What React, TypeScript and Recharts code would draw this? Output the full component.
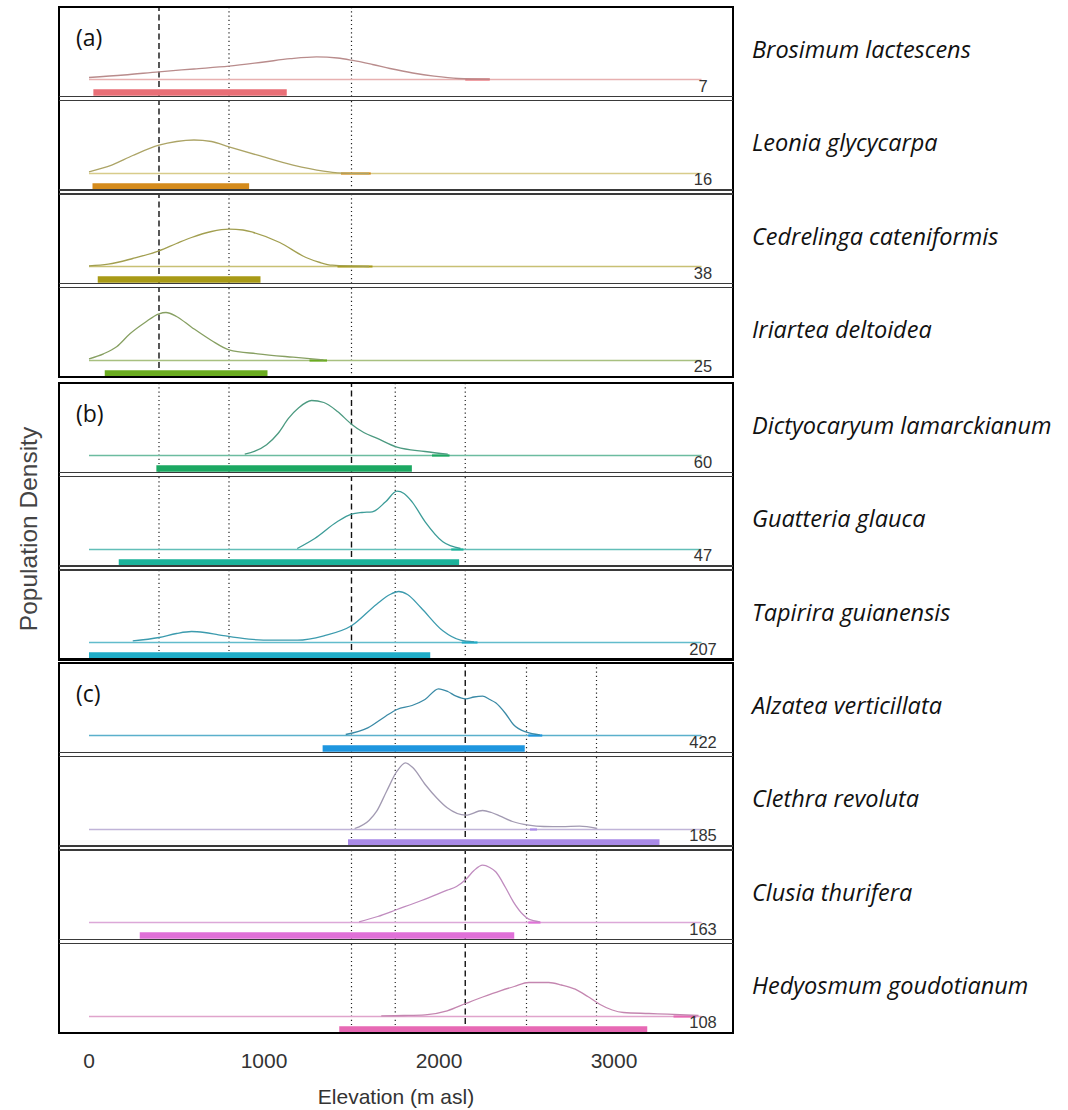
import React from 'react';
import { ComposedChart, Line, XAxis, YAxis, ReferenceLine } from 'recharts';

// ---------- data ----------
const species = [
  'Brosimum lactescens', 'Leonia glycycarpa', 'Cedrelinga cateniformis', 'Iriartea deltoidea',
  'Dictyocaryum lamarckianum', 'Guatteria glauca', 'Tapirira guianensis',
  'Alzatea verticillata', 'Clethra revoluta', 'Clusia thurifera', 'Hedyosmum goudotianum',
];
const counts = [7, 16, 38, 25, 60, 47, 207, 422, 185, 163, 108];
const groupOf = [0, 0, 0, 0, 1, 1, 1, 2, 2, 2, 2];
const groupLabels = ['(a)', '(b)', '(c)'];
const rangeLow = [25, 20, 50, 90, 385, 170, 0, 1335, 1480, 290, 1430];
const rangeHigh = [1130, 915, 980, 1020, 1845, 2115, 1950, 2490, 3260, 2430, 3190];
const tailLow = [2150, 1440, 1420, 1260, 1960, 2070, 2130, 2510, 2520, 2510, 3340];
const tailHigh = [2290, 1610, 1620, 1360, 2060, 2140, 2220, 2590, 2560, 2580, 3470];
const dashedLines = [[400], [1500], [2150]];
const dottedLines = [[800, 1500], [400, 800, 1750, 2150], [1500, 1750, 2500, 2900]];
const baselineFrom = 0;
const baselineTo = 3500;
const xTicks = [0, 1000, 2000, 3000];

// density curves: [elevation, relative density]
const curveBrosimum = [[0, 2], [200, 4.5], [400, 7.7], [600, 10.5], [800, 13.3], [1000, 17.5], [1150, 20.8], [1300, 22.7], [1420, 21.5], [1500, 19.3], [1620, 15], [1720, 11], [1850, 6.5], [1972, 3.3], [2110, 1], [2290, 0.3]];
const curveLeonia = [[0, 1.7], [130, 8.3], [250, 18], [400, 28.3], [500, 32], [600, 33.5], [700, 32], [800, 26.7], [964, 18.3], [1166, 8.3], [1340, 2.3], [1420, 0.7], [1600, 0]];
const curveCedrelinga = [[0, 0.7], [110, 2.3], [250, 8], [400, 15.7], [500, 23], [586, 29], [700, 35], [800, 37.3], [880, 36.5], [940, 34], [1090, 24], [1240, 9], [1320, 4], [1390, 1.3], [1600, 0]];
const curveIriartea = [[0, 1.7], [83, 6.7], [160, 14], [234, 26.7], [320, 38], [400, 46.7], [440, 48], [500, 44], [586, 33.3], [700, 20], [800, 10.7], [964, 6.7], [1166, 3.3], [1340, 0.7]];
const curveDictyocaryum = [[890, 1.3], [1015, 10.7], [1080, 22], [1141, 37.3], [1200, 48], [1272, 55], [1342, 53], [1420, 44], [1500, 31.3], [1570, 23], [1644, 17.3], [1760, 8.3], [1920, 4], [2050, 1.3]];
const curveGuatteria = [[1190, 1], [1290, 11], [1418, 27.7], [1500, 35.3], [1560, 37], [1619, 37.7], [1695, 47.7], [1760, 58.3], [1800, 56], [1846, 47.7], [1921, 27.7], [2022, 7.7], [2123, 1]];
const curveTapirira = [[250, 1.7], [400, 5], [500, 9], [586, 11], [660, 10], [740, 7.7], [914, 3.3], [1050, 2.3], [1191, 2.3], [1342, 6.7], [1500, 16.7], [1644, 38.3], [1720, 48], [1770, 51], [1820, 48], [1896, 35], [2022, 11.7], [2123, 2.3], [2200, 0.7]];
const curveAlzatea = [[1467, 1], [1593, 7.7], [1695, 19.3], [1760, 26], [1846, 30], [1920, 36], [1997, 46.7], [2050, 44], [2098, 39.3], [2153, 36.7], [2200, 38.5], [2249, 39.3], [2290, 36], [2324, 32.7], [2380, 22], [2425, 11], [2500, 3.3], [2576, 0.7]];
const curveClethra = [[1518, 1], [1600, 9], [1644, 18.3], [1700, 38], [1760, 58.3], [1808, 66.7], [1850, 62], [1921, 45], [1990, 31], [2047, 21.7], [2153, 14.3], [2249, 19], [2300, 17], [2350, 13.3], [2420, 8], [2513, 4.3], [2600, 3], [2700, 2.8], [2803, 3.3], [2904, 1]];
const curveClusia = [[1543, 0.7], [1650, 6], [1760, 13], [1900, 22], [2047, 32.3], [2100, 36], [2153, 43], [2200, 52], [2249, 57.3], [2290, 55], [2324, 50.7], [2380, 35], [2425, 20.7], [2480, 8], [2513, 3.3], [2576, 0.7]];
const curveHedyosmum = [[1670, 0.7], [1800, 1], [1921, 1.7], [2047, 5.7], [2153, 13], [2250, 19.5], [2350, 25.7], [2430, 30], [2513, 34], [2627, 34], [2700, 31.5], [2778, 27.3], [2850, 20], [2918, 12.3], [2990, 6.5], [3054, 4], [3200, 3], [3306, 2.3], [3483, 1]];
const curves = [curveBrosimum, curveLeonia, curveCedrelinga, curveIriartea, curveDictyocaryum, curveGuatteria, curveTapirira, curveAlzatea, curveClethra, curveClusia, curveHedyosmum];

// ---------- style ----------
const barColors = ['#e96f77', '#d58b1c', '#a89a16', '#6aab1f', '#1ca862', '#1bb29a', '#21adc8', '#1e96df', '#a98ae7', '#e070d8', '#e769b4'];
const curveColors = ['#b98c8c', '#aca466', '#a29f50', '#87a062', '#4c9a80', '#3c9c98', '#3c9bae', '#3a8aa6', '#a29ab2', '#c08cbf', '#c486b0'];
const baseColors = ['#e7b0b0', '#d8cc8a', '#c8c074', '#a8c080', '#6cbca0', '#62beb8', '#62bccc', '#5ab0cc', '#c0b4d8', '#dca8d8', '#e0a4cc'];

const LEFT = 59;
const RIGHT = 733;
const PLOT_W = RIGHT - LEFT;
const X_DOMAIN: [number, number] = [-171.4, 3680];
const Y_DOMAIN: [number, number] = [-17, 72.5];
const PANEL_H = 89.5;
const GAP = 4;
const GROUP_TOP = [7, 383, 663];

function panelTop(i: number) {
  const g = groupOf[i];
  const k = groupOf.slice(0, i).filter((v) => v === g).length;
  return GROUP_TOP[g] + k * (PANEL_H + GAP);
}

const sansFont = '"Liberation Sans", Arial, sans-serif';
const narrowFont = '"Liberation Sans Narrow", "Liberation Sans", Arial, sans-serif';
const calFont = '"Open Sans", Lato, sans-serif';

function Panel({ i }: { i: number }) {
  const g = groupOf[i];
  const data = curves[i].map(([x, d]) => ({ x, d }));
  return (
    <ComposedChart width={PLOT_W} height={PANEL_H} data={data} margin={{ top: 0, right: 0, bottom: 0, left: 0 }}>
      <XAxis type="number" dataKey="x" domain={X_DOMAIN} hide allowDataOverflow />
      <YAxis type="number" domain={Y_DOMAIN} hide allowDataOverflow />
      {dottedLines[g].map((v) => (
        <ReferenceLine key={'dt' + v} x={v} stroke="#222" strokeWidth={1.2} strokeDasharray="1.2 3" />
      ))}
      {dashedLines[g].map((v) => (
        <ReferenceLine key={'ds' + v} x={v} stroke="#111" strokeWidth={1.4} strokeDasharray="6 3.5" />
      ))}
      <ReferenceLine segment={[{ x: baselineFrom, y: 0 }, { x: baselineTo, y: 0 }]} stroke={baseColors[i]} strokeWidth={1.4} />
      <ReferenceLine segment={[{ x: tailLow[i], y: 0 }, { x: tailHigh[i], y: 0 }]} stroke={barColors[i]} strokeWidth={2.2} />
      <ReferenceLine segment={[{ x: rangeLow[i], y: -13 }, { x: rangeHigh[i], y: -13 }]} stroke={barColors[i]} strokeWidth={6.5} />
      <Line type="monotone" dataKey="d" stroke={curveColors[i]} strokeWidth={1.3} dot={false} isAnimationActive={false} />
    </ComposedChart>
  );
}

export default function App() {
  const lines: React.ReactNode[] = [];
  GROUP_TOP.forEach((top, g) => {
    const idx = groupOf.map((v, i) => (v === g ? i : -1)).filter((v) => v >= 0);
    const bottom = panelTop(idx[idx.length - 1]) + PANEL_H;
    lines.push(<div key={'gt' + g} style={{ position: 'absolute', left: LEFT - 1.25, top: top - 1.25, width: PLOT_W + 2.5, height: 2.5, background: '#000' }} />);
    lines.push(<div key={'gb' + g} style={{ position: 'absolute', left: LEFT - 1.25, top: bottom - 1.25, width: PLOT_W + 2.5, height: 2.5, background: '#000' }} />);
    lines.push(<div key={'gl' + g} style={{ position: 'absolute', left: LEFT - 1.25, top: top - 1.25, width: 2.5, height: bottom - top + 2.5, background: '#000' }} />);
    lines.push(<div key={'gr' + g} style={{ position: 'absolute', left: RIGHT - 1.25, top: top - 1.25, width: 2.5, height: bottom - top + 2.5, background: '#000' }} />);
    idx.forEach((i, k) => {
      if (k > 0) {
        const t = panelTop(i);
        lines.push(<div key={'it' + i} style={{ position: 'absolute', left: LEFT, top: t - 0.75, width: PLOT_W, height: 1.5, background: '#3a3a3a' }} />);
        lines.push(<div key={'ib' + i} style={{ position: 'absolute', left: LEFT, top: t - GAP - 0.75, width: PLOT_W, height: 1.5, background: '#3a3a3a' }} />);
      }
    });
  });

  return (
    <div style={{ position: 'absolute', left: 0, top: 0, width: 1068, height: 1110, background: '#fff', overflow: 'hidden' }}>
      {species.map((s, i) => (
        <div key={'p' + i} style={{ position: 'absolute', left: LEFT, top: panelTop(i) }}>
          <Panel i={i} />
        </div>
      ))}
      {lines}
      {GROUP_TOP.map((t, g) => (
        <div key={'gl' + g} style={{ position: 'absolute', left: 76, top: t + 15, fontFamily: calFont, fontSize: 23, color: '#111', lineHeight: '30px' }}>
          {groupLabels[g]}
        </div>
      ))}
      {counts.map((c, i) => (
        <div key={'c' + i} style={{ position: 'absolute', left: 673, width: 60, top: panelTop(i) + PANEL_H - 21, textAlign: 'center', fontFamily: narrowFont, fontSize: 16.5, color: '#333', lineHeight: '20px' }}>
          {c}
        </div>
      ))}
      {species.map((s, i) => (
        <div key={'s' + i} style={{ position: 'absolute', left: 752, top: panelTop(i) + PANEL_H / 2 - 19, fontFamily: calFont, fontStyle: 'italic', fontSize: 23.5, color: '#111', lineHeight: '32px', whiteSpace: 'nowrap' }}>
          {s}
        </div>
      ))}
      <div style={{ position: 'absolute', left: 29 - 150, top: 529 - 15, width: 300, textAlign: 'center', transform: 'rotate(-90deg)', fontFamily: sansFont, fontSize: 24.5, color: '#444', lineHeight: '30px' }}>
        Population Density
      </div>
      <div style={{ position: 'absolute', left: LEFT, top: 1030 }}>
        <ComposedChart width={PLOT_W} height={80} data={xTicks.map((x) => ({ x, d: 0 }))} margin={{ top: 0, right: 0, bottom: 0, left: 0 }}>
          <XAxis
            type="number"
            dataKey="x"
            domain={X_DOMAIN}
            ticks={xTicks}
            axisLine={false}
            tickLine={false}
            height={65}
            tick={{ fontFamily: sansFont, fontSize: 21, fill: '#333' }}
            label={{ value: 'Elevation (m asl)', position: 'insideBottom', offset: 6, style: { fontFamily: sansFont, fontSize: 21, fill: '#333' } }}
            allowDataOverflow
          />
          <YAxis type="number" domain={[0, 1]} hide />
          <Line dataKey="d" stroke="none" dot={false} isAnimationActive={false} />
        </ComposedChart>
      </div>
    </div>
  );
}
